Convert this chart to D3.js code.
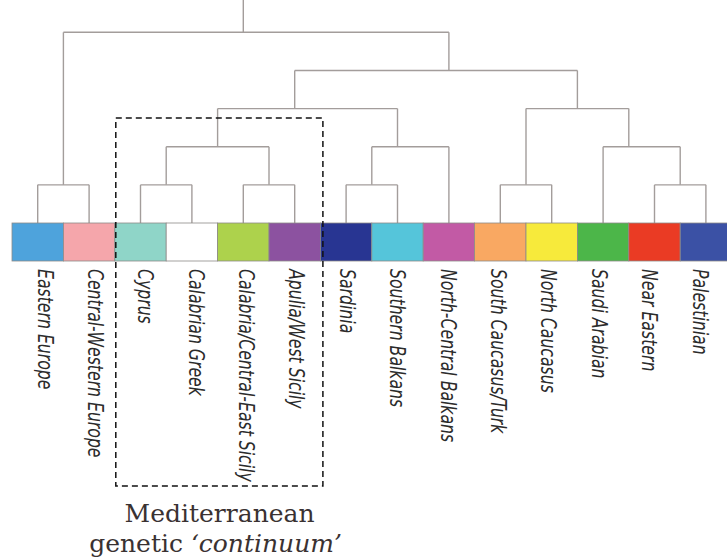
<!DOCTYPE html>
<html lang="en">
<head>
    <meta charset="UTF-8">
    <title>Mediterranean genetic continuum - dendrogram</title>
    <style>
        html, body { margin: 0; padding: 0; background: #fff; }
        svg { display: block; }
    </style>
</head>
<body>
    <div class="box"></div>
    <script src="https://d3js.org/d3.v7.min.js"></script>
    <script>
        // 叶子（人群）及其颜色
        const leaves = [
            "Eastern Europe", "Central-Western Europe", "Cyprus", "Calabrian Greek",
            "Calabria/Central-East Sicily", "Apulia/West Sicily", "Sardinia", "Southern Balkans",
            "North-Central Balkans", "South Caucasus/Turk", "North Caucasus", "Saudi Arabian",
            "Near Eastern", "Palestinian"
        ];
        const leafColors = [
            "#4ea3dc", "#f5a6ab", "#8fd5c8", "#ffffff",
            "#add24c", "#8c52a0", "#283592", "#55c5da",
            "#c25aa5", "#f9a862", "#f7ea3b", "#4cb649",
            "#ea3b24", "#3b51a5"
        ];
        const leafParents = [
            "west", "west", "cypcg", "cypcg",
            "calapu", "calapu", "sardsb", "sardsb",
            "sard", "caucasus", "caucasus", "levant",
            "nepal", "nepal"
        ];

        // 内部节点（聚类）
        const clusterIds = ["root", "west", "core", "medsard", "med", "cypcg", "calapu", "sard", "sardsb", "east", "caucasus", "levant", "nepal"];
        const clusterParents = [null, "root", "root", "core", "medsard", "med", "med", "medsard", "sard", "core", "east", "east", "levant"];
        // 竖线位置（以叶子序号为单位），null 表示取子节点中点
        const clusterStems = [4, null, 8, 5, null, null, null, 7, null, null, null, 11.5, null];

        // 虚线框内的人群
        const boxed = ["Cyprus", "Apulia/West Sicily"];
        const captionLines = ["Mediterranean", "genetic "];
        const captionItalic = "\u2018continuum\u2019";

        const width = 727, height = 560;
        const svg = d3.select(".box").append("svg")
            .attr("width", width)
            .attr("height", height);

        const cellW = 51.4;
        const stripTop = 223, stripBottom = 261;

        const x = d3.scaleLinear()
            .domain([-0.5, leaves.length - 0.5])
            .range([12, 12 + cellW * leaves.length]);

        const y = d3.scaleLinear()
            .domain([0, 5])
            .range([stripTop, 32.3]);

        // 标签位置
        const labelX = d3.scalePoint()
            .domain(leaves)
            .range([37.5, 692.5]);

        // 构建层次
        const rows = clusterIds.map((id, i) => ({ id, parentId: clusterParents[i], stem: clusterStems[i] }))
            .concat(leaves.map((id, i) => ({ id, parentId: leafParents[i], index: i })));

        const root = d3.stratify().id(d => d.id).parentId(d => d.parentId)(rows);

        // 计算每个节点的横坐标（叶子序号单位）
        root.eachAfter(d => {
            if (!d.children) {
                d.pos = d.data.index;
            } else {
                const ps = d.children.map(c => c.pos);
                d.lo = d3.min(ps);
                d.hi = d3.max(ps);
                d.pos = d.data.stem != null ? d.data.stem : (d.lo + d.hi) / 2;
            }
        });

        const lineColor = "#a39d9b";
        const tree = svg.append("g")
            .attr("fill", "none")
            .attr("stroke", lineColor)
            .attr("stroke-width", 1.4);

        const internals = root.descendants().filter(d => d.children);

        // 横线
        tree.selectAll(".hline").data(internals).join("line")
            .attr("class", "hline")
            .attr("x1", d => x(d.lo))
            .attr("x2", d => x(d.hi))
            .attr("y1", d => y(d.height))
            .attr("y2", d => y(d.height));

        // 竖线
        tree.selectAll(".vline").data(root.descendants().filter(d => d.parent)).join("line")
            .attr("class", "vline")
            .attr("x1", d => x(d.pos))
            .attr("x2", d => x(d.pos))
            .attr("y1", d => y(d.height))
            .attr("y2", d => y(d.parent.height));

        // 根节点竖线
        tree.append("line")
            .attr("x1", x(root.pos))
            .attr("x2", x(root.pos))
            .attr("y1", y(root.height))
            .attr("y2", 0);

        // 颜色条
        svg.append("g").selectAll("rect").data(leaves).join("rect")
            .attr("x", (d, i) => x(i - 0.5))
            .attr("y", stripTop)
            .attr("width", cellW)
            .attr("height", stripBottom - stripTop)
            .attr("fill", (d, i) => leafColors[i])
            .attr("stroke", "#8d8a88")
            .attr("stroke-width", 0.8);

        // 标签（压窄的斜体）
        svg.append("g").selectAll("text").data(leaves).join("text")
            .attr("transform", d => `translate(${labelX(d)}, 269) rotate(90) scale(0.73, 1)`)
            .attr("font-family", "'DejaVu Sans', sans-serif")
            .attr("font-style", "italic")
            .attr("font-size", 21.5)
            .attr("fill", "#2b2b2b")
            .text(d => d);

        // 虚线框
        const bi0 = leaves.indexOf(boxed[0]), bi1 = leaves.indexOf(boxed[1]);
        svg.append("rect")
            .attr("x", x(bi0 - 0.5) + 1)
            .attr("y", y(2.75))
            .attr("width", x(bi1 + 0.5) + 2.5 - (x(bi0 - 0.5) + 1))
            .attr("height", 486 - y(2.75))
            .attr("fill", "none")
            .attr("stroke", "#111")
            .attr("stroke-width", 1.5)
            .attr("stroke-dasharray", "6,4");

        // 说明文字
        const cx = (x(bi0 - 0.5) + x(bi1 + 0.5)) / 2 + 2;
        const caption = svg.append("g")
            .attr("font-family", "'DejaVu Serif', serif")
            .attr("font-size", 25)
            .attr("fill", "#3a3232")
            .attr("text-anchor", "middle");
        caption.append("text")
            .attr("x", cx)
            .attr("y", 522)
            .text(captionLines[0]);
        const t2 = caption.append("text")
            .attr("x", cx - 4)
            .attr("y", 552);
        t2.append("tspan").text(captionLines[1]);
        t2.append("tspan").attr("font-style", "italic").text(captionItalic);
    </script>
</body>
</html>
